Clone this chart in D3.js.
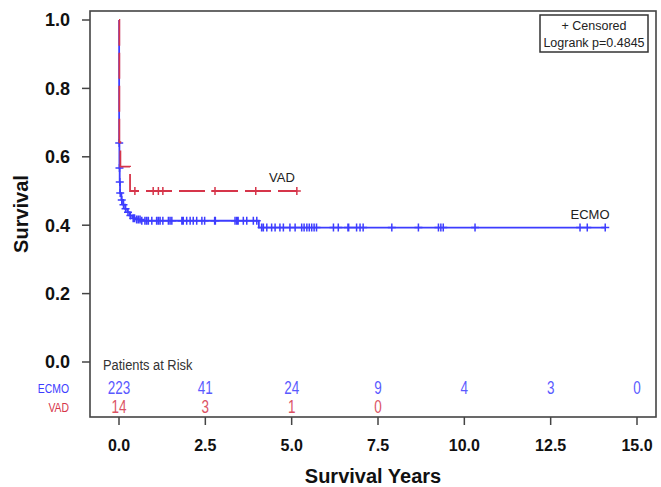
<!DOCTYPE html>
<html>
  <head>
    <meta charset="utf-8">
    <style>
    body { margin: 0; background: #fff; }
    text { font-family: "Liberation Sans", Arial, sans-serif; }
    .tick-label { font-weight: bold; fill: #111; }
    .axis-title { font-weight: bold; font-size: 20px; fill: #111; }
    </style>
  </head>
  <body>
    <script src="https://d3js.org/d3.v7.min.js"></script>
    <script>

    // tick labels
    var xTicks = [0, 2.5, 5, 7.5, 10, 12.5, 15];
    var yTicks = [0, 0.2, 0.4, 0.6, 0.8, 1.0];

    // ECMO curve: drop times (years) and survival after each drop
    var ecmoStepTimes = [0.004, 0.012, 0.02, 0.03, 0.07, 0.12, 0.18, 0.24, 0.31, 0.39, 0.5, 0.62, 4.05];
    var ecmoStepSurv  = [0.64, 0.567, 0.526, 0.494, 0.474, 0.46, 0.448, 0.438, 0.428, 0.42, 0.417, 0.413, 0.393];
    var ecmoCensor = [0.006, 0.014, 0.022, 0.035, 0.08, 0.13, 0.19, 0.26, 0.33, 0.41, 0.45,
      0.51, 0.56, 0.61, 0.66, 0.75, 0.80, 0.85, 0.95, 1.09, 1.14, 1.19, 1.27, 1.43, 1.48, 1.53,
      1.82, 1.86, 1.96, 2.06, 2.15, 2.25, 2.40, 2.48,
      2.77, 2.79, 3.36, 3.41, 3.45, 3.60, 3.70, 3.89, 3.99, 4.13, 4.18, 4.28, 4.42, 4.52, 4.66, 4.76, 4.95,
      5.10, 5.29, 5.36, 5.44, 5.51, 5.58, 5.65, 5.72, 6.21, 6.35, 6.63, 6.65, 6.88, 6.98, 7.07,
      7.90, 8.67, 9.25, 9.32, 9.39, 10.31, 13.35, 13.56, 14.08];

    // VAD curve
    var vadStepTimes = [0.01, 0.04, 0.32];
    var vadStepSurv  = [0.643, 0.571, 0.5];
    var vadCensor = [0.46, 0.99, 1.14, 1.27, 2.78, 3.96, 5.15];

    // numbers at risk
    var ecmoAtRisk = [223, 41, 24, 9, 4, 3, 0];
    var vadAtRisk = [14, 3, 1, 0];

    var blue = "#3d3dff", red = "#d6354a";

    var width = 661, height = 487;

    var svg = d3.select("body").append("svg")
        .attr("width", width)
        .attr("height", height);

    var x = d3.scaleLinear().domain([0, 15]).range([119, 637]);
    var y = d3.scaleLinear().domain([0, 1]).range([362, 20]);

    var box = {left: 90, top: 11, right: 656, bottom: 417};

    // frame
    svg.append("rect")
        .attr("x", box.left)
        .attr("y", box.top)
        .attr("width", box.right - box.left)
        .attr("height", box.bottom - box.top)
        .attr("fill", "none")
        .attr("stroke", "#444")
        .attr("stroke-width", 1.6);

    // y axis
    svg.selectAll(".ytick")
        .data(yTicks)
        .enter().append("line")
          .attr("x1", box.left - 8)
          .attr("x2", box.left)
          .attr("y1", function(d) { return y(d); })
          .attr("y2", function(d) { return y(d); })
          .attr("stroke", "#444")
          .attr("stroke-width", 1.5);

    svg.selectAll(".ylab")
        .data(yTicks)
        .enter().append("text")
          .attr("class", "tick-label")
          .attr("x", 70)
          .attr("y", function(d) { return y(d); })
          .attr("dy", "0.36em")
          .attr("text-anchor", "end")
          .style("font-size", "18px")
          .text(function(d) { return d.toFixed(1); });

    // x axis
    svg.selectAll(".xtick")
        .data(xTicks)
        .enter().append("line")
          .attr("x1", function(d) { return x(d); })
          .attr("x2", function(d) { return x(d); })
          .attr("y1", box.bottom)
          .attr("y2", box.bottom + 8)
          .attr("stroke", "#444")
          .attr("stroke-width", 1.5);

    svg.selectAll(".xlab")
        .data(xTicks)
        .enter().append("text")
          .attr("class", "tick-label")
          .attr("x", function(d) { return x(d); })
          .attr("y", 451)
          .attr("text-anchor", "middle")
          .style("font-size", "16px")
          .text(function(d) { return d.toFixed(1); });

    svg.append("text")
        .attr("class", "axis-title")
        .attr("x", (box.left + box.right) / 2)
        .attr("y", 483)
        .attr("text-anchor", "middle")
        .text("Survival Years");

    svg.append("text")
        .attr("class", "axis-title")
        .attr("transform", "translate(28," + ((box.top + box.bottom) / 2) + ") rotate(-90)")
        .attr("text-anchor", "middle")
        .text("Survival");

    // KM helpers
    function survAt(times, surv, t) {
      var i = d3.bisectRight(times, t);
      return i === 0 ? 1 : surv[i - 1];
    }

    function curvePoints(times, surv, censor) {
      var pts = [[0, 1]];
      times.forEach(function(t, i) { pts.push([t, surv[i]]); });
      var end = d3.max(censor);
      pts.push([end, survAt(times, surv, end)]);
      return pts;
    }

    var line = d3.line()
        .curve(d3.curveStepAfter)
        .x(function(d) { return x(d[0]); })
        .y(function(d) { return y(d[1]); });

    function plus(t, s) {
      var px = x(t), py = y(survAt(s.times, s.surv, t));
      return "M" + (px - 4) + "," + py + "H" + (px + 4) + "M" + px + "," + (py - 4) + "V" + (py + 4);
    }

    var series = [
      {name: "ECMO", times: ecmoStepTimes, surv: ecmoStepSurv, censor: ecmoCensor, color: blue, dash: null},
      {name: "VAD", times: vadStepTimes, surv: vadStepSurv, censor: vadCensor, color: red, dash: "26,7"}
    ];

    series.forEach(function(s) {
      svg.append("path")
          .attr("d", line(curvePoints(s.times, s.surv, s.censor)))
          .attr("fill", "none")
          .attr("stroke", s.color)
          .attr("stroke-width", 1.8)
          .attr("stroke-dasharray", s.dash);

      svg.append("path")
          .attr("d", s.censor.map(function(t) { return plus(t, s); }).join(""))
          .attr("fill", "none")
          .attr("stroke", s.color)
          .attr("stroke-width", 1.5);
    });

    // curve labels
    svg.append("text")
        .attr("x", 282).attr("y", 182)
        .attr("text-anchor", "middle")
        .style("font-size", "13px").attr("fill", "#222")
        .text("VAD");

    svg.append("text")
        .attr("x", 590).attr("y", 219)
        .attr("text-anchor", "middle")
        .style("font-size", "13px").attr("fill", "#222")
        .text("ECMO");

    // legend box
    svg.append("rect")
        .attr("x", 540).attr("y", 15)
        .attr("width", 108).attr("height", 37)
        .attr("fill", "#fff")
        .attr("stroke", "#333")
        .attr("stroke-width", 1.5);

    svg.append("text")
        .attr("x", 594).attr("y", 30)
        .attr("text-anchor", "middle")
        .style("font-size", "12.5px").attr("fill", "#222")
        .text("+ Censored");

    svg.append("text")
        .attr("x", 594).attr("y", 47)
        .attr("text-anchor", "middle")
        .style("font-size", "12.5px").attr("fill", "#222")
        .text("Logrank p=0.4845");

    // patients at risk table
    svg.append("text")
        .attr("transform", "translate(103,370) scale(0.92,1)")
        .style("font-size", "14px").attr("fill", "#333")
        .text("Patients at Risk");

    var rows = [
      {label: "ECMO", values: ecmoAtRisk, color: blue, y: 394},
      {label: "VAD", values: vadAtRisk, color: red, y: 413}
    ];

    rows.forEach(function(r) {
      svg.append("text")
          .attr("transform", "translate(69," + (r.y - 1) + ") scale(0.8,1)")
          .attr("text-anchor", "end")
          .style("font-size", "13px")
          .attr("fill", r.color)
          .text(r.label);

      svg.selectAll(null)
          .data(r.values)
          .enter().append("text")
            .attr("transform", function(d, i) {
              return "translate(" + x(xTicks[i]) + "," + r.y + ") scale(0.75,1)";
            })
            .attr("text-anchor", "middle")
            .style("font-size", "18px")
            .attr("fill", r.color)
            .attr("opacity", 0.85)
            .text(function(d) { return d; });
    });

    </script>
  </body>
</html>
